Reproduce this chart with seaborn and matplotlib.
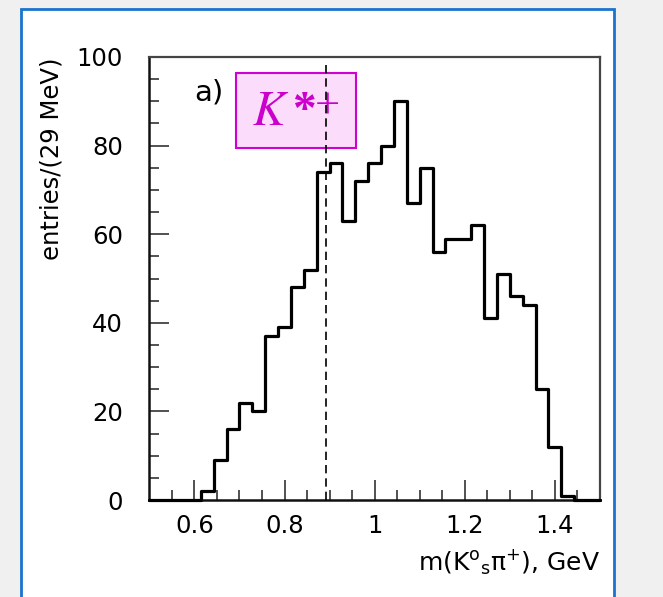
import numpy as np
import pandas as pd
import matplotlib
matplotlib.use("Agg")
import matplotlib.pyplot as plt
from matplotlib.patches import Rectangle
from matplotlib.ticker import MultipleLocator, FixedLocator
import seaborn as sns

# ---- data ----
x_min, x_max, n_bins = 0.5, 1.5, 35          # 35 bins of ~29 MeV
counts = [0, 0, 0, 0, 2, 9, 16, 22, 20, 37, 39, 48, 52, 74, 76, 63, 72, 76,
          80, 90, 67, 75, 56, 59, 59, 62, 41, 51, 46, 44, 25, 12, 1, 0, 0]
kstar_mass = 0.892
x_ticks = [0.6, 0.8, 1.0, 1.2, 1.4]
x_ticklabels = ["0.6", "0.8", "1", "1.2", "1.4"]
y_ticks = [0, 20, 40, 60, 80, 100]
y_ticklabels = ["0", "20", "40", "60", "80", "100"]
panel_label = "a)"
box_main = r"$K$"
box_star = "*"
box_charge = "+"
x_label = r"m(K${}^{\mathrm{o}}{}_{\mathrm{s}}$π${}^{+}$), GeV"
y_label = "entries/(29 MeV)"

edges = np.linspace(x_min, x_max, n_bins + 1)
centers = 0.5 * (edges[:-1] + edges[1:])
df = pd.DataFrame({"mass": centers, "entries": counts})

sns.set_theme(style="ticks")
plt.rcParams["font.family"] = ["DejaVu Sans"]
plt.rcParams["mathtext.fontset"] = "dejavusans"

fig = plt.figure(figsize=(6.63, 5.97), dpi=100)
fig.patch.set_facecolor("#f0f0f0")
panel = Rectangle((21 / 663, -0.02), (614 - 21) / 663, (597 - 9) / 597 + 0.02,
                  transform=fig.transFigure, facecolor="white",
                  edgecolor="#1a73cc", linewidth=2.0, zorder=-5)
fig.patches.append(panel)

ax = fig.add_axes([149.3 / 663, 97 / 597, (600 - 149.3) / 663, (500 - 57) / 597])
ax.set_zorder(3)
ax.set_facecolor("white")

sns.histplot(data=df, x="mass", weights="entries", bins=n_bins,
             binrange=(x_min, x_max),
             element="step", fill=False, color="black", linewidth=2.3, ax=ax)
for ln in ax.lines:
    ln.set_clip_on(False)
    ln.set_zorder(3)

ax.set_xlim(x_min, x_max)
ax.set_ylim(0, 100)

ax.xaxis.set_major_locator(FixedLocator(x_ticks))
ax.set_xticklabels(x_ticklabels)
ax.xaxis.set_minor_locator(FixedLocator(np.arange(0.55, 1.46, 0.05)))
ax.yaxis.set_major_locator(FixedLocator(y_ticks))
ax.set_yticklabels(y_ticklabels)
ax.yaxis.set_minor_locator(MultipleLocator(5))

ax.tick_params(axis="both", which="both", direction="in", colors="#222222",
               labelcolor="black", top=False, right=False)
ax.tick_params(axis="both", which="major", length=14.5, width=1.1)
ax.tick_params(axis="both", which="minor", length=7.5, width=1.1)
ax.tick_params(axis="x", which="major", labelsize=17.5, pad=10)
ax.tick_params(axis="y", which="major", labelsize=17.5, pad=19)

for side in ["top", "right"]:
    ax.spines[side].set_color("#444444")
    ax.spines[side].set_linewidth(1.6)
for side in ["left", "bottom"]:
    ax.spines[side].set_color("#111111")
    ax.spines[side].set_linewidth(1.8)

ax.set_xlabel("")
ax.set_ylabel("")

# dashed K* mass line
ax.plot([kstar_mass, kstar_mass], [0, 98.8], color="black", linewidth=1.2,
        linestyle=(0, (5, 3)), zorder=6)

# magenta label box
ax.add_patch(Rectangle((0.6927, 79.5), 0.9593 - 0.6927, 96.4 - 79.5,
                       facecolor="#fbdcfb", edgecolor="#d000d0",
                       linewidth=1.5, zorder=4))
mag = "#cc00cc"
ax.text(0.7283, 84.7, box_main, color=mag, fontsize=35,
        math_fontfamily="stix", ha="left", va="baseline", zorder=5)
ax.text(0.8160, 85.0, box_star, color=mag, fontsize=34, fontweight="bold",
        family="Liberation Serif", ha="left", va="baseline", zorder=5)
ax.text(0.8680, 86.2, box_charge, color=mag, fontsize=32,
        family="Liberation Serif", ha="left", va="baseline", zorder=5)

ax.text(0.6, 92, panel_label, fontsize=21, ha="left", va="center",
        color="black", zorder=5)

fig.text(600 / 663, 1 - 571 / 597, x_label, fontsize=18, ha="right",
         va="baseline", color="black")
fig.text(52 / 663, 1 - 58 / 597, y_label, fontsize=17.5, rotation=90,
         ha="center", va="top", color="black")

fig.savefig("out.png", dpi=100, facecolor=fig.get_facecolor())
